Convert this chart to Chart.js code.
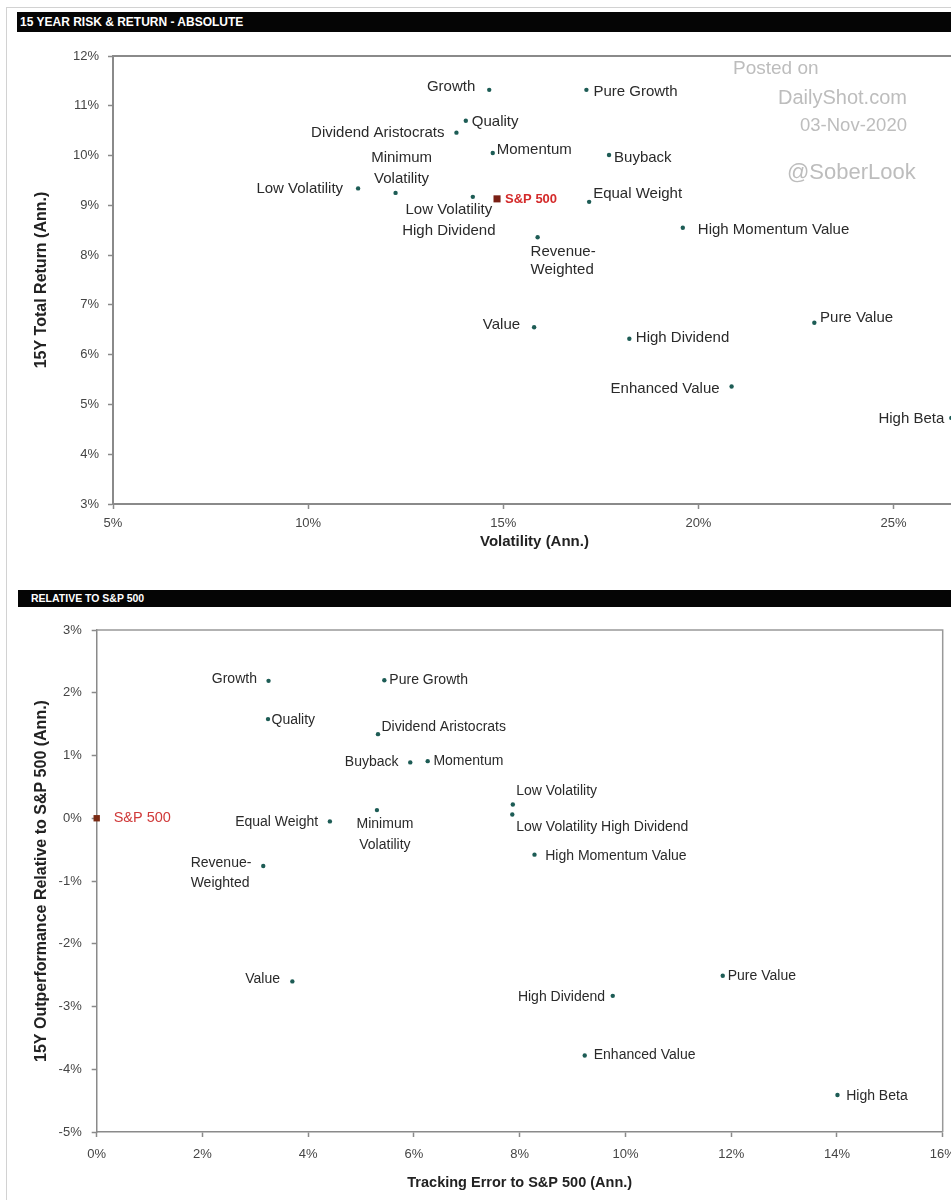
<!DOCTYPE html>
<html><head><meta charset="utf-8">
<script src="https://cdn.jsdelivr.net/npm/chart.js@4/dist/chart.umd.min.js"></script>
<style>
html,body{margin:0;padding:0;background:#fff;width:951px;height:1200px;overflow:hidden;font-family:"Liberation Sans",Arial,sans-serif;}
#page{position:relative;width:951px;height:1200px;overflow:hidden;}
.frame{position:absolute;left:6px;top:7px;width:1000px;height:1300px;border:1px solid #d2d2d2;}
.bar{position:absolute;background:#050505;color:#fff;font-weight:bold;white-space:nowrap;}
.wm{position:absolute;color:#bdbdbd;white-space:nowrap;line-height:1;}
.cw{position:absolute;overflow:visible;}
canvas{display:block;}
</style></head>
<body><div id="page">
<div class="frame"></div>
<div class="bar" style="left:17px;top:12px;width:1000px;height:20px;font-size:12px;line-height:20px;padding-left:3px;">15 YEAR RISK &amp; RETURN - ABSOLUTE</div>
<div class="cw" style="left:0;top:40px;"><canvas id="c1" width="961" height="514"></canvas></div>
<div class="bar" style="left:18px;top:590px;width:1000px;height:17px;font-size:10.5px;line-height:17px;padding-left:13px;">RELATIVE TO S&amp;P 500</div>
<div class="cw" style="left:0;top:615px;"><canvas id="c2" width="951" height="579"></canvas></div>
<div class="wm" style="left:733px;top:57.7px;font-size:19px;">Posted on</div>
<div class="wm" style="left:778px;top:87.2px;font-size:20px;">DailyShot.com</div>
<div class="wm" style="left:800px;top:116px;font-size:18.5px;">03-Nov-2020</div>
<div class="wm" style="left:787px;top:161px;font-size:22px;">@SoberLook</div>
</div>
<script>
// ---------------- DATA ----------------
const factorNames = ['Growth','Pure Growth','Quality','Dividend Aristocrats','Momentum','Buyback',
  'Low Volatility','Minimum Volatility','Low Volatility High Dividend','Equal Weight',
  'High Momentum Value','Revenue-Weighted','Value','High Dividend','Pure Value','Enhanced Value','High Beta'];
// Chart 1: absolute
const topVolatility = [14.64,17.13,14.04,13.80,14.73,17.71,11.28,12.24,14.22,17.20,19.60,15.88,15.79,18.23,22.97,20.85,26.48];
const topReturn     = [11.32,11.32,10.70,10.46,10.05,10.01, 9.34, 9.25, 9.17, 9.07, 8.55, 8.36, 6.55, 6.32, 6.64, 5.36, 4.73];
const topLabelText  = ['Growth','Pure Growth','Quality','Dividend Aristocrats','Momentum','Buyback',
  'Low Volatility','Minimum\nVolatility','Low Volatility\nHigh Dividend','Equal Weight',
  'High Momentum Value','Revenue-\nWeighted','Value','High Dividend','Pure Value','Enhanced Value','High Beta'];
const spName = 'S&P 500';
const spTop = [14.84, 9.13];
const topXTicks = [5,10,15,20,25];
const topYTicks = [3,4,5,6,7,8,9,10,11,12];
// Chart 2: relative to S&P 500
const relTrackingError = [3.25,5.44,3.24,5.32,6.26,5.93,7.87,5.30,7.86,4.41,8.28,3.15,3.70,9.76,11.84,9.23,14.01];
const relOutperformance= [2.19,2.20,1.58,1.34,0.91,0.89,0.22,0.13,0.06,-0.05,-0.58,-0.76,-2.60,-2.83,-2.51,-3.78,-4.41];
const relLabelText  = ['Growth','Pure Growth','Quality','Dividend Aristocrats','Momentum','Buyback',
  'Low Volatility','Minimum\nVolatility','Low Volatility High Dividend','Equal Weight',
  'High Momentum Value','Revenue-\nWeighted','Value','High Dividend','Pure Value','Enhanced Value','High Beta'];
const spRel = [0, 0];
const relXTicks = [0,2,4,6,8,10,12,14,16];
const relYTicks = [-5,-4,-3,-2,-1,0,1,2,3];

// ---------------- LABEL LAYOUT (style only) ----------------
// [dx, dy, align, lineHeight]
const topLayout = [[-14,-3,'right'],[7,2,'left'],[6,1.5,'left'],[-12,0,'right'],[4,-3,'left'],[5,3,'left'],
  [-15,0,'right'],[6,-35,'center',21],[-24,12.5,'center',21],[4,-8,'left'],
  [15,2,'left'],[-7,14.7,'left',18],[-14,-2,'right'],[6.5,-1.3,'left'],[5.7,-4.7,'left'],[-12,2,'right'],[-7,1,'right']];
const relLayout = [[-11.6,-1.7,'right'],[5,0,'left'],[3.5,1,'left'],[3.5,-7,'left'],[5.7,0,'left'],[-11.7,0,'right'],
  [3.3,-13,'left'],[8,14.3,'center',20.7],[4,12.7,'left'],[-11.7,1,'right'],
  [10.7,1.4,'left'],[-72.6,-2.4,'left',19.7],[-12.3,-2.3,'right'],[-7.7,1.6,'right'],[5,0,'left'],[9,0,'left'],[8.7,1.3,'left']];

const FAMILY = '"Liberation Sans", Arial, sans-serif';
Chart.defaults.font.family = FAMILY;
const DOT = '#1d5c55';
const AXIS = '#8a8a8a';

const labelPlugin = {
  id: 'ptLabels',
  afterDatasetsDraw(chart) {
    const ctx = chart.ctx;
    chart.data.datasets.forEach((ds, di) => {
      const meta = chart.getDatasetMeta(di);
      if (!ds.ptText) return;
      meta.data.forEach((el, i) => {
        const lay = ds.ptLayout[i];
        const lines = ds.ptText[i].split('\n');
        const lh = lay[3] || 20;
        ctx.save();
        ctx.font = ds.ptFont;
        ctx.fillStyle = ds.ptColor;
        ctx.textAlign = lay[2];
        ctx.textBaseline = 'middle';
        lines.forEach((ln, k) => ctx.fillText(ln, el.x + lay[0], el.y + lay[1] + k * lh));
        ctx.restore();
      });
    });
  }
};
const framePlugin = {
  id: 'plotFrame',
  beforeDatasetsDraw(chart, args, opts) {
    const {left, top, right, bottom} = chart.chartArea;
    const ctx = chart.ctx;
    ctx.save();
    ctx.strokeStyle = opts.color || AXIS;
    ctx.lineWidth = opts.width || 2;
    ctx.beginPath();
    ctx.moveTo(left, top); ctx.lineTo(right, top); ctx.lineTo(right, bottom);
    ctx.stroke();
    ctx.restore();
  }
};

function axis(o) {
  return {
    type: 'linear', min: o.min, max: o.max,
    afterBuildTicks: s => { s.ticks = o.ticks.map(v => ({value: v})); },
    ticks: {padding: o.tpad, color: '#454545', font: {size: 13}, callback: v => v + '%'},
    grid: {drawOnChartArea: false, drawTicks: true, tickLength: 5, color: AXIS, tickWidth: 1.5},
    border: {display: true, color: AXIS, width: o.bw},
    title: {display: true, text: o.title, color: '#222', font: {size: o.tsize, weight: 'bold'}, padding: o.titlePad},
    afterFit: s => {
      if (o.w) s.width = o.w;
      if (o.h) s.height = o.h;
      s.paddingLeft = 0; s.paddingRight = 0; s.paddingTop = 0; s.paddingBottom = 0;
    }
  };
}

function pts(xs, ys) { return xs.map((x, i) => ({x, y: ys[i]})); }

// ---------------- CHART 1 ----------------
new Chart(document.getElementById('c1'), {
  type: 'scatter',
  data: {datasets: [
    {data: pts(topVolatility, topReturn), pointRadius: 2.2, pointHoverRadius: 2.2, backgroundColor: DOT, borderWidth: 0, clip: false,
     ptText: topLabelText, ptLayout: topLayout, ptFont: '15px ' + FAMILY, ptColor: '#2a2a2a'},
    {data: [{x: spTop[0], y: spTop[1]}], pointStyle: 'rect', pointRadius: 5, backgroundColor: '#7a1f14', borderWidth: 0, clip: false,
     ptText: [spName], ptLayout: [[8,1,'left']], ptFont: 'bold 13px ' + FAMILY, ptColor: '#d42a2a'}
  ]},
  options: {
    responsive: false, animation: false, devicePixelRatio: 1,
    layout: {padding: {top: 16, left: 0, right: 0, bottom: 0}},
    plugins: {legend: {display: false}, tooltip: {enabled: false}, plotFrame: {color: AXIS, width: 2}},
    scales: {
      x: axis({min: 5, max: 26.6, ticks: topXTicks, tpad: 6.5, bw: 2, title: 'Volatility (Ann.)', tsize: 15, titlePad: {top: 0, bottom: 3}, h: 50}),
      y: axis({min: 3, max: 12, ticks: topYTicks, tpad: 9, bw: 2, title: '15Y Total Return (Ann.)', tsize: 16, titlePad: {top: 32.4, bottom: 0}, w: 113})
    }
  },
  plugins: [framePlugin, labelPlugin]
});

// ---------------- CHART 2 ----------------
new Chart(document.getElementById('c2'), {
  type: 'scatter',
  data: {datasets: [
    {data: pts(relTrackingError, relOutperformance), pointRadius: 2.2, pointHoverRadius: 2.2, backgroundColor: DOT, borderWidth: 0, clip: false,
     ptText: relLabelText, ptLayout: relLayout, ptFont: '14px ' + FAMILY, ptColor: '#2a2a2a'},
    {data: [{x: spRel[0], y: spRel[1]}], pointStyle: 'rect', pointRadius: 4.5, backgroundColor: '#7a2a14', borderWidth: 0, clip: false,
     ptText: [spName], ptLayout: [[17,0,'left']], ptFont: '14.5px ' + FAMILY, ptColor: '#d03a3a'}
  ]},
  options: {
    responsive: false, animation: false, devicePixelRatio: 1,
    layout: {padding: {top: 15, left: 0, right: 8.3, bottom: 0}},
    plugins: {legend: {display: false}, tooltip: {enabled: false}, plotFrame: {color: '#999', width: 1.5}},
    scales: {
      x: axis({min: 0, max: 16, ticks: relXTicks, tpad: 9.3, bw: 1.5, title: 'Tracking Error to S&P 500 (Ann.)', tsize: 14.5, titlePad: {top: 0, bottom: 2.3}, h: 62}),
      y: axis({min: -5, max: 3, ticks: relYTicks, tpad: 10, bw: 1.5, title: '15Y Outperformance Relative to S&P 500 (Ann.)', tsize: 16, titlePad: {top: 32.4, bottom: 0}, w: 96.7})
    }
  },
  plugins: [framePlugin, labelPlugin]
});
</script>
</body></html>
